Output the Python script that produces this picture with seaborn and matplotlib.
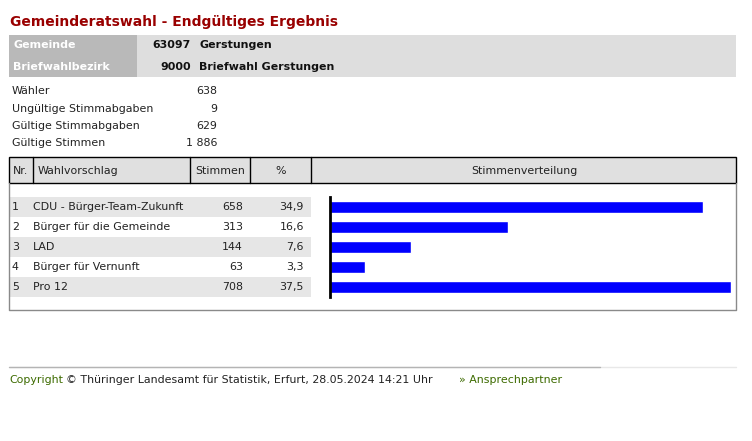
import matplotlib
matplotlib.use("Agg")
import matplotlib.pyplot as plt
from matplotlib.patches import Rectangle
import seaborn as sns

# --- data ---
title = "Gemeinderatswahl - Endgültiges Ergebnis"
kopf_labels = ["Gemeinde", "Briefwahlbezirk"]
kopf_nummern = ["63097", "9000"]
kopf_namen = ["Gerstungen", "Briefwahl Gerstungen"]

stat_labels = ["Wähler", "Ungültige Stimmabgaben", "Gültige Stimmabgaben", "Gültige Stimmen"]
stat_values = ["638", "9", "629", "1 886"]

nr = ["1", "2", "3", "4", "5"]
parteien = ["CDU - Bürger-Team-Zukunft", "Bürger für die Gemeinde", "LAD",
            "Bürger für Vernunft", "Pro 12"]
stimmen = [658, 313, 144, 63, 708]
prozent = [34.9, 16.6, 7.6, 3.3, 37.5]

sns.set_style("white")
plt.rcParams["font.family"] = ["DejaVu Sans"]

W, H = 752, 441
fig = plt.figure(figsize=(W / 100, H / 100), dpi=100)
ax = fig.add_axes([0, 0, 1, 1])
ax.set_xlim(0, W)
ax.set_ylim(H, 0)
ax.axis("off")

fs = 7.95
txt = "#222222"

# title
ax.text(10, 22, title, fontsize=10.0, fontweight="bold", color="#990000", va="center")

# grey header band
ax.add_patch(Rectangle((9, 35), 128, 42, color="#b9b9b9", lw=0))
ax.add_patch(Rectangle((137, 35), 599, 42, color="#dedede", lw=0))
for i, y in enumerate([45, 67]):
    ax.text(13, y, kopf_labels[i], fontsize=fs, fontweight="bold", color="white", va="center")
    ax.text(191, y, kopf_nummern[i], fontsize=fs, fontweight="bold", color="#111111",
            va="center", ha="right")
    ax.text(199, y, kopf_namen[i], fontsize=fs, fontweight="bold", color="#111111", va="center")

# summary numbers
for i, y in enumerate([91, 108.5, 126, 143]):
    ax.text(12, y, stat_labels[i], fontsize=fs, color=txt, va="center")
    ax.text(217, y, stat_values[i], fontsize=fs, color=txt, va="center", ha="right")

# results table header
ax.add_patch(Rectangle((9, 157), 727, 26, facecolor="#e0e0e0", edgecolor="black", lw=1))
for x in [33, 190, 250, 311]:
    ax.plot([x, x], [157, 183], color="black", lw=1)
ax.text(13, 171, "Nr.", fontsize=fs, color=txt, va="center")
ax.text(38, 171, "Wahlvorschlag", fontsize=fs, color=txt, va="center")
ax.text(220, 171, "Stimmen", fontsize=fs, color=txt, va="center", ha="center")
ax.text(281, 171, "%", fontsize=fs, color=txt, va="center", ha="center")
ax.text(524, 171, "Stimmenverteilung", fontsize=fs, color=txt, va="center", ha="center")

# table body frame
ax.plot([9, 9, 736, 736], [183, 310, 310, 183], color="#8a8a8a", lw=1)

row_top = 197
row_h = 20
for i in range(len(parteien)):
    y0 = row_top + i * row_h
    yc = y0 + row_h / 2
    if i % 2 == 0:
        ax.add_patch(Rectangle((9, y0), 302, row_h, color="#e6e6e6", lw=0))
    ax.text(12, yc, nr[i], fontsize=fs, color=txt, va="center")
    ax.text(33, yc, parteien[i], fontsize=fs, color=txt, va="center")
    ax.text(243, yc, str(stimmen[i]), fontsize=fs, color=txt, va="center", ha="right")
    ax.text(304, yc, f"{prozent[i]:.1f}".replace(".", ","), fontsize=fs, color=txt,
            va="center", ha="right")

# bar chart area
x0, x1 = 330, 731
y_top, y_bot = row_top, row_top + row_h * len(parteien)
bax = fig.add_axes([x0 / W, 1 - y_bot / H, (x1 - x0) / W, (y_bot - y_top) / H])
sns.barplot(x=prozent, y=parteien, orient="h", color="#0000ff", width=0.62,
            saturation=1, ax=bax)
bax.set_xlim(0, max(prozent))
bax.set_ylim(len(parteien) - 0.5, -0.5)
bax.set_facecolor("none")
for s in ["top", "right", "bottom"]:
    bax.spines[s].set_visible(False)
bax.spines["left"].set_color("black")
bax.spines["left"].set_linewidth(2)
bax.set_xticks([])
bax.set_yticks([])
bax.set_xlabel("")
bax.set_ylabel("")

# footer
ax.plot([9, 736], [367, 367], color="#e8e8e8", lw=1)
ax.plot([9, 600], [367, 367], color="#b4b4b4", lw=1)
ax.text(9.5, 380, "Copyright", fontsize=fs, color="#3d6b00", va="center")
ax.text(66, 380, "© Thüringer Landesamt für Statistik, Erfurt, 28.05.2024 14:21 Uhr",
        fontsize=fs, color=txt, va="center")
ax.text(459, 380, "» Ansprechpartner", fontsize=fs, color="#3d6b00", va="center")

fig.savefig("out.png", dpi=100, facecolor="white")
